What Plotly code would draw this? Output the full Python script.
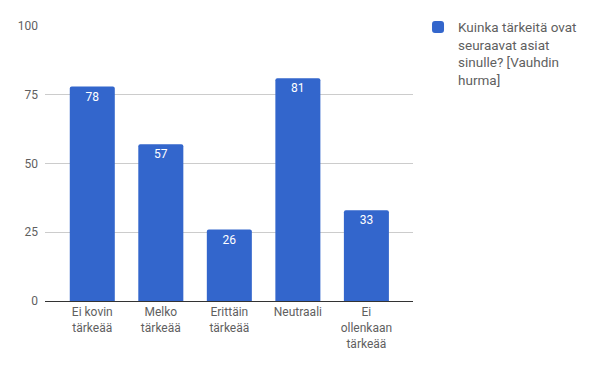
import plotly.graph_objects as go

categories = ["Ei kovin<br>tärkeää", "Melko<br>tärkeää", "Erittäin<br>tärkeää", "Neutraali", "Ei<br>ollenkaan<br>tärkeää"]
values = [78, 57, 26, 81, 33]
series_name = "Kuinka tärkeitä ovat<br>seuraavat asiat<br>sinulle? [Vauhdin<br>hurma]"
y_ticks = [0, 25, 50, 75, 100]

fig = go.Figure()
fig.add_trace(go.Bar(
    x=list(range(len(categories))),
    y=values,
    name=series_name,
    marker=dict(color="#3366cc", line=dict(width=0)),
    width=0.657,
    text=[str(v) for v in values],
    textposition="inside",
    insidetextanchor="end",
    textfont=dict(color="white", size=12, family="Roboto"),
    showlegend=True,
))

fig.update_layout(
    width=592, height=363,
    margin=dict(l=37, r=187, t=18, b=70, autoexpand=False),
    paper_bgcolor="white", plot_bgcolor="white",
    font=dict(family="Roboto", size=12, color="#5f5f5f"),
    barcornerradius=2,
    xaxis=dict(
        tickmode="array",
        tickvals=list(range(len(categories))),
        ticktext=categories,
        range=[-0.69, 4.68],
        showgrid=False,
        showline=True, linecolor="#333333", linewidth=1,
        ticks="", tickfont=dict(size=12, color="#5f5f5f"),
        fixedrange=True,
        automargin=False,
    ),
    yaxis=dict(
        range=[0, 100],
        tickvals=y_ticks,
        showgrid=True, gridcolor="#cccccc", gridwidth=1,
        zeroline=False,
        ticks="", tickfont=dict(size=12, color="#5f5f5f"),
        ticklabelstandoff=6,
        automargin=False,
    ),
    legend=dict(
        xref="container", yref="container",
        x=0.6926, xanchor="left", y=0.99, yanchor="top",
        valign="top",
        font=dict(size=13.5, color="#5f5f5f", family="Roboto"),
        itemwidth=30,
        bgcolor="rgba(0,0,0,0)",
    ),
    showlegend=True,
)

fig.write_html("out.html")
